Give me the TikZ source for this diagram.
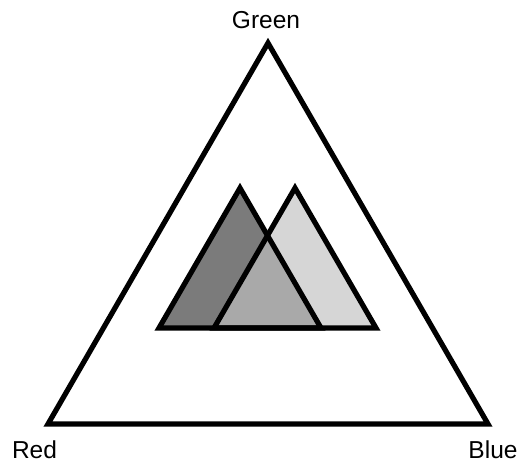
\documentclass[tikz,border=0pt]{standalone}
\usepackage{fontspec}
\setmainfont{Liberation Sans}
\usepackage{xcolor}
\usetikzlibrary{calc}
\definecolor{darkshade}{HTML}{7B7B7B}
\definecolor{midshade}{HTML}{A9A9A9}
\definecolor{lightshade}{HTML}{D6D6D6}
\tikzset{
  edge/.style={black, line width=5.2pt, line join=miter},
  cornerlabel/.style={anchor=base, inner sep=0pt, font=\fontsize{24.5}{28}\selectfont}
}
\begin{document}
\begin{tikzpicture}[x=1pt, y=-1pt]
  \useasboundingbox (0,0) rectangle (520,464);
  % outer triangle corners
  \coordinate (g) at (268,43);
  \coordinate (r) at (48,424);
  \coordinate (b) at (488,424);
  % inner triangles
  \coordinate (la) at (240,188);
  \coordinate (ll) at (159,328);
  \coordinate (lr) at (321,328);
  \coordinate (ra) at (295,188);
  \coordinate (rl) at (214,328);
  \coordinate (rr) at (376,328);
  \fill[darkshade] (la)--(ll)--(lr)--cycle;
  \fill[lightshade] (ra)--(rl)--(rr)--cycle;
  \begin{scope}
    \clip (la)--(ll)--(lr)--cycle;
    \fill[midshade] (ra)--(rl)--(rr)--cycle;
  \end{scope}
  \draw[edge] (la)--(ll)--(lr)--cycle;
  \draw[edge] (ra)--(rl)--(rr)--cycle;
  \draw[edge] (g)--(r)--(b)--cycle;
  % labels
  \node[cornerlabel] (green) at (266,28) {Green};
  \node[cornerlabel] (red) at (34.5,458) {Red};
  \node[cornerlabel] (blue) at (493,458) {Blue};
\end{tikzpicture}
\end{document}
